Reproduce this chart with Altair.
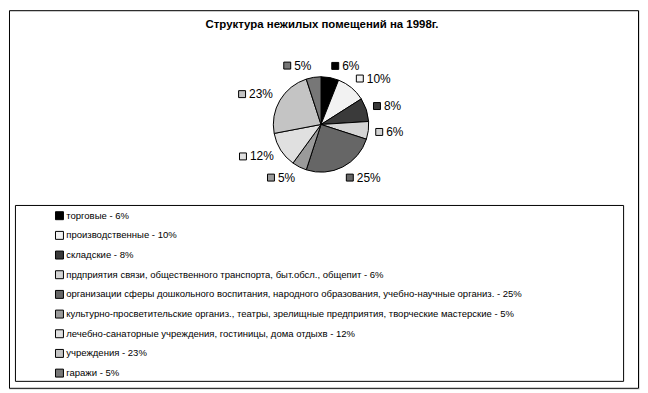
import altair as alt
import pandas as pd

title_text = "Структура нежилых помещений на 1998г."
categories = [
    "торговые",
    "производственные",
    "складские",
    "прдприятия связи, общественного транспорта, быт.обсл., общепит",
    "организации сферы дошкольного воспитания, народного образования, учебно-научные организ.",
    "культурно-просветительские организ., театры, зрелищные предприятия, творческие мастерские",
    "лечебно-санаторные учреждения, гостиницы, дома отдыхв",
    "учреждения",
    "гаражи",
]
values = [6, 10, 8, 6, 25, 5, 12, 23, 5]
fills = ["#000000", "#f2f2f2", "#3a3a3a", "#d4d4d4", "#666666",
         "#9a9a9a", "#e0e0e0", "#c4c4c4", "#777777"]

FONT = "Liberation Sans"
CX, CY, R = 314, 115, 48
RX, RY = 55, 60

df = pd.DataFrame({"cat": categories, "value": values})
df["idx"] = list(range(len(categories)))
df["legend"] = [f"{c} - {v}%" for c, v in zip(categories, values)]
df["pct"] = [f"{v}%" for v in values]
legend_labels = list(df["legend"])

color_scale = alt.Scale(domain=legend_labels, range=fills)

base = alt.Chart(df)

arc = base.mark_arc(outerRadius=R, stroke="black", strokeWidth=1).encode(
    theta=alt.Theta("value:Q", stack=True),
    color=alt.Color(
        "legend:N",
        scale=color_scale,
        legend=alt.Legend(
            orient="none", legendX=46, legendY=202, title=None,
            symbolType="square", symbolSize=64, symbolStrokeColor="black",
            symbolStrokeWidth=1, labelFontSize=9.6, labelFont=FONT,
            labelColor="black", rowPadding=6.8, padding=0, labelOffset=2,
            labelLimit=0, symbolOpacity=1,
        ),
    ),
    order=alt.Order("idx:Q"),
    x=alt.value(CX),
    y=alt.value(CY),
)

lab = base.transform_joinaggregate(total="sum(value)").transform_window(
    cum="sum(value)", sort=[alt.SortField("idx")]
).transform_calculate(
    mid="2*PI*(datum.cum - datum.value/2)/datum.total"
).transform_calculate(
    lx=f"{CX} + {RX}*sin(datum.mid)",
    ly=f"{CY} - {RY}*cos(datum.mid)",
    right="sin(datum.mid) >= 0",
).transform_calculate(
    tw="6.7*(length(datum.pct)-1) + 10.7",
).transform_calculate(
    sx="datum.right ? datum.lx + 4 : datum.lx - datum.tw - 8",
    tx="datum.right ? datum.lx + 11 : datum.lx - datum.tw - 1",
)

squares = lab.mark_point(shape="square", filled=True, size=49, stroke="black",
                         strokeWidth=1, opacity=1).encode(
    x=alt.X("sx:Q", scale=None),
    y=alt.Y("ly:Q", scale=None),
    color=alt.Color("legend:N", scale=color_scale, legend=None),
)

texts = lab.mark_text(align="left", baseline="middle", fontSize=12, font=FONT,
                      color="black").encode(
    x=alt.X("tx:Q", scale=None),
    y=alt.Y("ly:Q", scale=None),
    text="pct:N",
)

tdf = pd.DataFrame({"t": [title_text]})
title = alt.Chart(tdf).mark_text(fontSize=11.5, fontWeight="bold", font=FONT,
                                 color="black", baseline="middle").encode(
    text="t:N", x=alt.value(CX + 1), y=alt.value(15)
)

legend_frame = alt.Chart(tdf).mark_rect(fill="transparent", stroke="black",
                                        strokeWidth=1).encode(
    x=alt.value(6.5), x2=alt.value(618.5), y=alt.value(196.5), y2=alt.value(373.5)
)

outer_frame = alt.Chart(tdf).mark_rect(fill="transparent", stroke="black",
                                       strokeWidth=1).encode(
    x=alt.value(0.5), x2=alt.value(633.5), y=alt.value(0.5), y2=alt.value(380.5)
)

chart = alt.layer(outer_frame, legend_frame, arc, squares, texts, title).properties(
    width=634, height=381, padding=1,
    autosize=alt.AutoSizeParams(type="none"),
).configure_view(strokeWidth=0).configure(background="white")

chart.save("out.html", embed_options={"renderer": "svg", "actions": False})
